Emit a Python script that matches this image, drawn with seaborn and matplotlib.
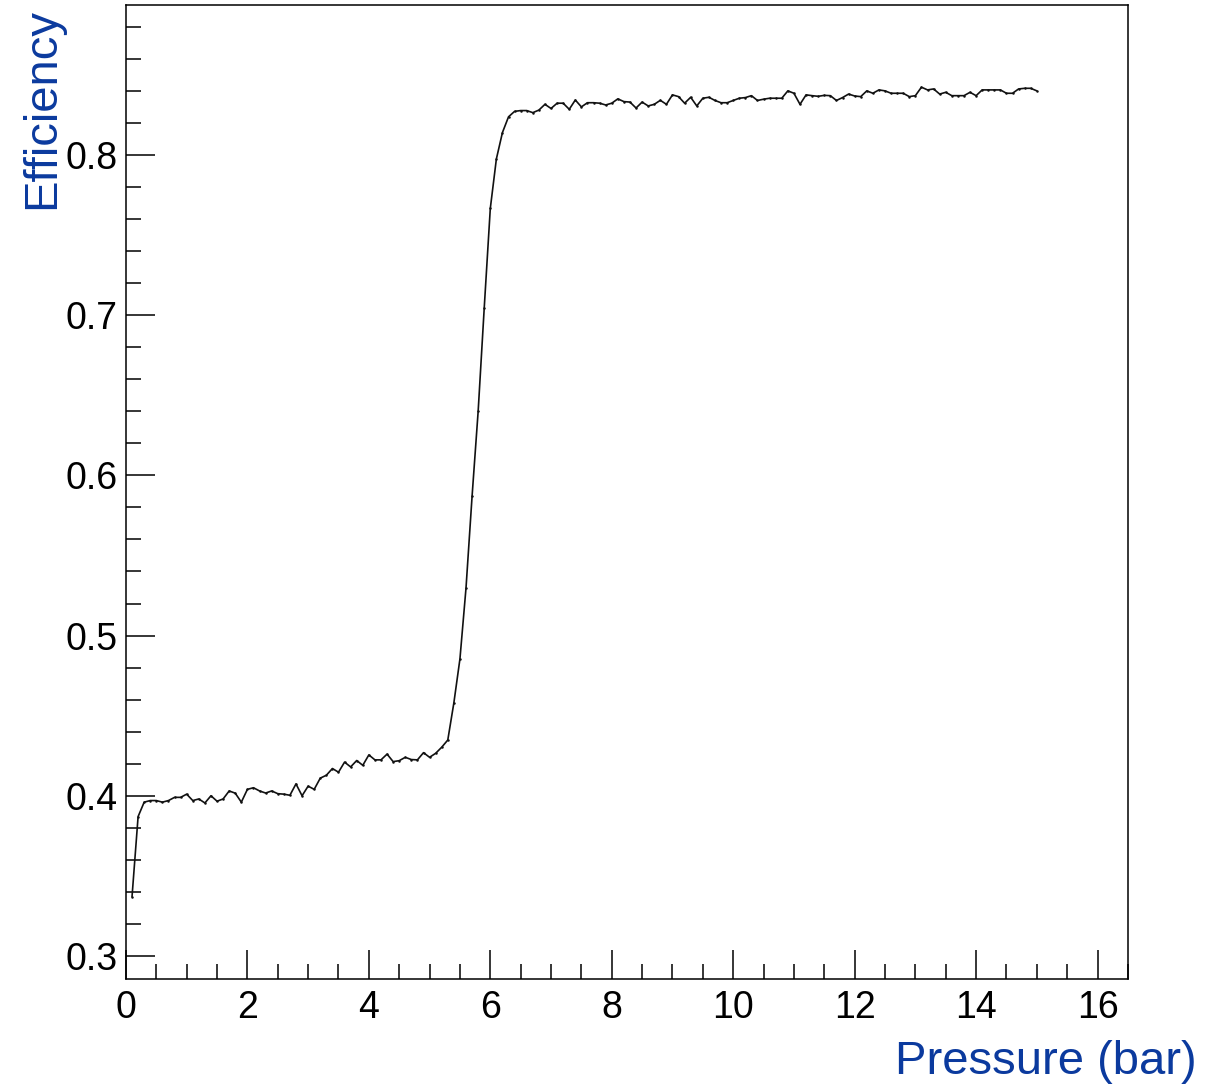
import numpy as np
import pandas as pd
import matplotlib
matplotlib.use("Agg")
import matplotlib.pyplot as plt
import matplotlib.ticker as mticker
import seaborn as sns

# pressure grid (bar), one point every 0.1 bar from 0.1 to 15.0
pressure = np.round(np.linspace(0.1, 15.0, 150), 1)

efficiency = [
    0.337, 0.387, 0.396, 0.397, 0.397, 0.396, 0.397, 0.399, 0.399, 0.401,
    0.397, 0.398, 0.3955, 0.400, 0.3966, 0.398, 0.403, 0.4016, 0.396, 0.404,
    0.405, 0.403, 0.4017, 0.403, 0.4013, 0.401, 0.4003, 0.4074, 0.400, 0.406,
    0.404, 0.411, 0.4128, 0.417, 0.4147, 0.421, 0.418, 0.422, 0.419, 0.4255,
    0.4224, 0.4224, 0.426, 0.4213, 0.4219, 0.424, 0.4226, 0.4224, 0.4269, 0.424,
    0.4265, 0.4303, 0.4348, 0.458, 0.4854, 0.5297, 0.587, 0.640, 0.7045, 0.7666,
    0.7975, 0.814, 0.8238, 0.8272, 0.8277, 0.8277, 0.8264, 0.828, 0.8316, 0.829,
    0.8323, 0.8323, 0.8285, 0.8343, 0.830, 0.8326, 0.8326, 0.8323, 0.8312, 0.8323,
    0.835, 0.8333, 0.833, 0.8293, 0.833, 0.8306, 0.8316, 0.8341, 0.8316, 0.8375,
    0.8364, 0.8323, 0.836, 0.8306, 0.8354, 0.836, 0.834, 0.8326, 0.8326, 0.834,
    0.8354, 0.8358, 0.837, 0.834, 0.8348, 0.8354, 0.8354, 0.8354, 0.840, 0.8385,
    0.8316, 0.8375, 0.837, 0.8366, 0.8372, 0.837, 0.834, 0.8358, 0.838, 0.8368,
    0.8364, 0.840, 0.8385, 0.8406, 0.840, 0.8385, 0.8385, 0.8385, 0.8364, 0.837,
    0.8423, 0.8406, 0.8412, 0.838, 0.8391, 0.837, 0.837, 0.837, 0.8391, 0.837,
    0.8406, 0.8406, 0.8406, 0.8406, 0.8385, 0.8385, 0.8412, 0.8416, 0.8416, 0.840,
]

df = pd.DataFrame({"pressure": pressure, "efficiency": efficiency})

sns.set_style("white")
plt.rcParams['font.family'] = ['Liberation Sans', 'DejaVu Sans']

label_blue = '#0b3a9e'

fig = plt.figure(figsize=(12.3, 10.86), dpi=100)
ax = fig.add_axes([0.1024, 0.0985, 0.8146, 0.8969])

sns.lineplot(data=df, x="pressure", y="efficiency", ax=ax,
             color='#111111', linewidth=1.2, marker='o', markersize=1.8,
             markeredgewidth=0)

ax.set_xlim(0, 16.5)
ax.set_ylim(0.2856, 0.8936)

ax.xaxis.set_major_locator(mticker.MultipleLocator(2))
ax.xaxis.set_minor_locator(mticker.MultipleLocator(0.5))
ax.yaxis.set_major_locator(mticker.MultipleLocator(0.1))
ax.yaxis.set_minor_locator(mticker.MultipleLocator(0.02))
ax.xaxis.set_major_formatter(mticker.FuncFormatter(lambda v, p: format(int(round(v)))))
ax.yaxis.set_major_formatter(mticker.FormatStrFormatter('%.1f'))

# ROOT-like ticks: inward, only on bottom and left
ax.tick_params(which='both', direction='in', bottom=True, left=True,
               top=False, right=False, width=1.1, color='black',
               labelsize=27, labelcolor='black')
ax.tick_params(which='major', length=21)
ax.tick_params(which='minor', length=11)
ax.tick_params(axis='x', which='major', pad=8)
ax.tick_params(axis='y', which='major', pad=6)

for s in ax.spines.values():
    s.set_visible(True)
    s.set_color('black')
    s.set_linewidth(1.1)

ax.set_xlabel("Pressure (bar)", fontsize=34, color=label_blue)
ax.xaxis.label.set(ha='right', va='center')
ax.xaxis.set_label_coords(1.069, -0.085)

ax.set_ylabel("Efficiency", fontsize=34, color=label_blue)
ax.yaxis.label.set(rotation_mode='default', ha='center', va='top')
ax.yaxis.set_label_coords(-0.084, 0.997)

ax.grid(False)

plt.savefig('out.png', dpi=100)
